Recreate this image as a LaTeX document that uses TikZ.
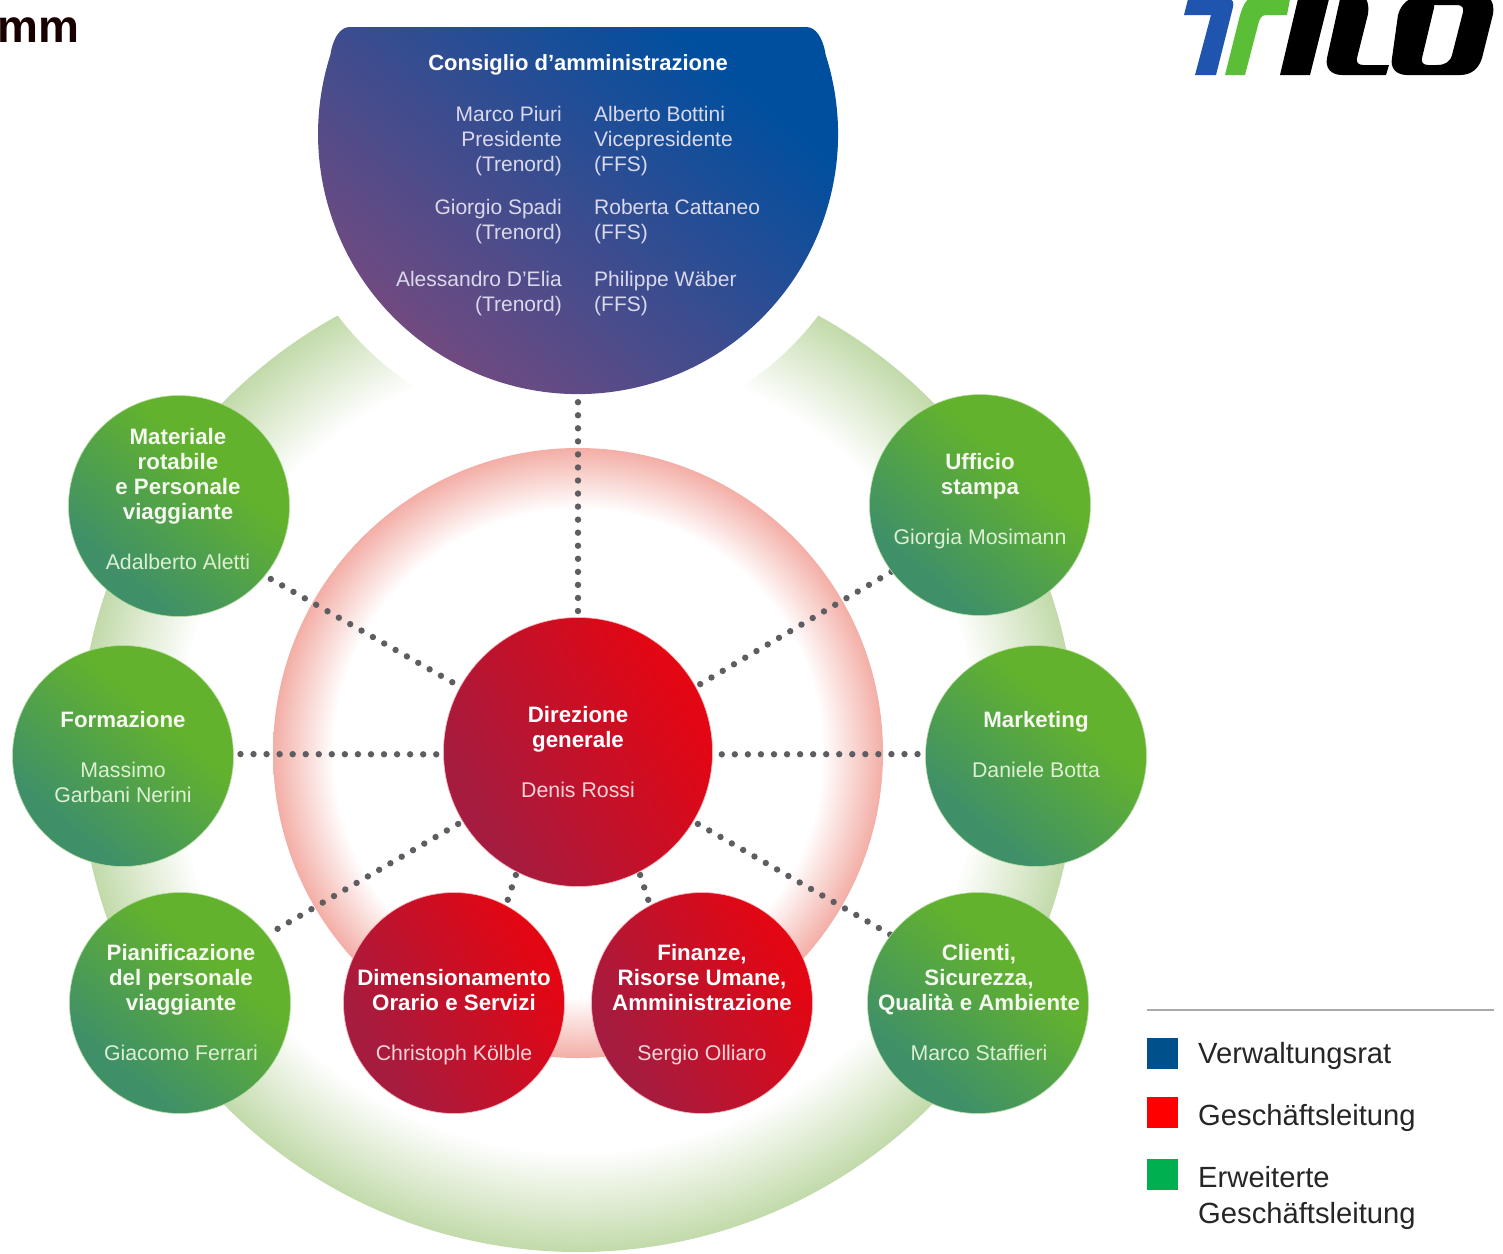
\documentclass[tikz,border=0pt]{standalone}
\usepackage{fontspec}
\setmainfont{Liberation Sans}
\pgfdeclarelayer{rings}
\pgfdeclarelayer{links}
\pgfsetlayers{rings,links,main}
\definecolor{ringG}{HTML}{C2DAAA}
\definecolor{ringR}{HTML}{F3AEA6}
\definecolor{linkC}{HTML}{5E5E62}
\definecolor{legB}{HTML}{00508C}
\definecolor{legR}{HTML}{FF0000}
\definecolor{legG}{HTML}{00B050}
\definecolor{logoB}{HTML}{1F55AE}
\definecolor{logoG}{HTML}{5ABF36}
\definecolor{greenNm}{HTML}{DDF0D2}
\definecolor{redNm}{HTML}{F8D4D8}
\definecolor{blueNm}{HTML}{DAD9EC}
\definecolor{titleC}{HTML}{F4F8EE}
\pgfdeclareradialshading{greenring}{\pgfpoint{0bp}{0bp}}{color(0bp)=(white);color(20bp)=(white);color(25bp)=(ringG);color(50bp)=(ringG)}
\pgfdeclareradialshading{redring}{\pgfpoint{0bp}{0bp}}{color(0bp)=(white);color(20bp)=(white);color(25bp)=(ringR);color(50bp)=(ringR)}
\definecolor{gA}{HTML}{3F9068}\definecolor{gB}{HTML}{62B22E}
\definecolor{rA}{HTML}{A51C40}\definecolor{rB}{HTML}{E30613}
\definecolor{bA}{HTML}{734A80}\definecolor{bB}{HTML}{004F9F}
\pgfdeclarehorizontalshading{gdisc}{100bp}{color(0bp)=(gA);color(30bp)=(gA);color(62bp)=(gB);color(100bp)=(gB)}
\pgfdeclarehorizontalshading{rdisc}{100bp}{color(0bp)=(rA);color(28bp)=(rA);color(72bp)=(rB);color(100bp)=(rB)}
\pgfdeclarehorizontalshading{bdisc}{100bp}{color(0bp)=(bA);color(28bp)=(bA);color(72bp)=(bB);color(100bp)=(bB)}
\newcommand{\nm}{\fontsize{21.3}{25}\selectfont}
\tikzset{
  x=1pt,y=-1pt,
  gdiscnode/.style={circle,inner sep=0pt,minimum size=221pt,shading=gdisc,shading angle=50,draw=gB!45!white,line width=0.6pt},
  rdiscnode/.style={circle,inner sep=0pt,minimum size=221pt,shading=rdisc,shading angle=30,draw=rB!30!white,line width=0.6pt},
  lbl/.style={align=center,inner sep=0pt,font=\fontsize{22.3}{25}\selectfont},
  dots/.style={linkC,line width=6.4pt,line cap=round,dash pattern=on 0pt off 13.05pt},
  brd/.style={inner sep=0pt,text=blueNm,font=\fontsize{21}{25}\selectfont},
  legbox/.style={minimum size=31pt,inner sep=0pt,anchor=north west},
  legtxt/.style={anchor=west,inner sep=0pt,font=\fontsize{29.2}{36}\selectfont,align=left,text=black!85}
}
\begin{document}
\begin{tikzpicture}
\useasboundingbox (0,0) rectangle (1503,1253);
\clip (0,0) rectangle (1503,1253);
% rings
\begin{pgfonlayer}{rings}
\fill[white] (0,0) rectangle (1503,1253);
\shade[shading=greenring] (578,753) circle[radius=499];
\shade[shading=redring] (578,753) circle[radius=305];
\fill[white] (578,134) circle[radius=301];
\end{pgfonlayer}
% heading fragment
\node[anchor=base west,inner sep=0pt,text=black!90!red,font=\fontsize{46}{46}\selectfont\bfseries] (head) at (-3,42) {mm};
% board
\shade[shading=bdisc,shading angle=50] (350,27) -- (806,27) .. controls (816,27) and (823,38) .. (825.7,55)
  arc[start angle=-17.7,end angle=197.7,radius=260] .. controls (333,38) and (340,27) .. (350,27) -- cycle;
\node[circle,minimum size=520pt,inner sep=0pt] (board) at (578,134) {};
\node[inner sep=0pt,text=white,font=\fontsize{22}{25}\selectfont\bfseries] (bt) at (578,65) {Consiglio d’amministrazione};
\node[brd,anchor=east,align=right] (b1) at (562,141) {Marco Piuri\\Presidente\\(Trenord)};
\node[brd,anchor=west,align=left] (b2) at (594,141) {Alberto Bottini\\Vicepresidente\\(FFS)};
\node[brd,anchor=east,align=right] (b3) at (562,222) {Giorgio Spadi\\(Trenord)};
\node[brd,anchor=west,align=left] (b4) at (594,222) {Roberta Cattaneo\\(FFS)};
\node[brd,anchor=east,align=right] (b5) at (562,294) {Alessandro D’Elia\\(Trenord)};
\node[brd,anchor=west,align=left] (b6) at (594,294) {Philippe Wäber\\(FFS)};
% discs
\node[rdiscnode,minimum size=269pt] (dir) at (578,752) {};
\node[gdiscnode] (mat) at (179,506) {};
\node[gdiscnode] (uff) at (980,505) {};
\node[gdiscnode] (frm) at (123,756) {};
\node[gdiscnode] (mkt) at (1036,756) {};
\node[gdiscnode] (pia) at (180,1003) {};
\node[gdiscnode] (cli) at (978,1003) {};
\node[rdiscnode] (dim) at (454,1003) {};
\node[rdiscnode] (fin) at (702,1003) {};
% labels
\node[lbl,text=white] (dirT) at (578,752) {\textbf{Direzione}\\\textbf{generale}\\[25pt]\textcolor{redNm}{\nm Denis Rossi}};
\node[lbl,text=titleC] (matT) at (178,499) {\textbf{Materiale}\\\textbf{rotabile}\\\textbf{e Personale}\\\textbf{viaggiante}\\[25pt]\textcolor{greenNm}{\nm Adalberto Aletti}};
\node[lbl,text=titleC] (uffT) at (980,501.5) {\textbf{Ufficio}\\\textbf{stampa}\\[25pt]\textcolor{greenNm}{\nm Giorgia Mosimann}};
\node[lbl,text=titleC] (frmT) at (123,757) {\textbf{Formazione}\\[25pt]\textcolor{greenNm}{\nm Massimo}\\\textcolor{greenNm}{\nm Garbani Nerini}};
\node[lbl,text=titleC] (mktT) at (1036,744.5) {\textbf{Marketing}\\[25pt]\textcolor{greenNm}{\nm Daniele Botta}};
\node[lbl,text=titleC] (piaT) at (181,1003) {\textbf{Pianificazione}\\\textbf{del personale}\\\textbf{viaggiante}\\[25pt]\textcolor{greenNm}{\nm Giacomo Ferrari}};
\node[lbl,text=titleC] (cliT) at (979,1003) {\textbf{Clienti,}\\\textbf{Sicurezza,}\\\textbf{Qualità e Ambiente}\\[25pt]\textcolor{greenNm}{\nm Marco Staffieri}};
\node[lbl,text=white] (dimT) at (454,1017) {\textbf{Dimensionamento}\\\textbf{Orario e Servizi}\\[25pt]\textcolor{redNm}{\nm Christoph Kölble}};
\node[lbl,text=white] (finT) at (702,1005) {\textbf{Finanze,}\\\textbf{Risorse Umane,}\\\textbf{Amministrazione}\\[25pt]\textcolor{redNm}{\nm Sergio Olliaro}};
% connectors
\begin{pgfonlayer}{links}
\draw[dots,shorten <=8pt] (board.south) -- (dir.north);
\draw[dots,shorten <=9pt] (dir.151.7) -- (mat.-39);
\draw[dots,shorten <=5pt] (dir.29) -- (uff.217);
\draw[dots,shorten <=7pt] (dir.181) -- (frm.1);
\draw[dots,shorten <=9pt] (dir.359) -- (mkt.179);
\draw[dots,shorten <=5pt] (dir.211) -- (pia.38);
\draw[dots,shorten <=5pt] (dir.-31) -- (cli.142);
\draw[dots,shorten <=3pt] (dir.243) -- (dim.62);
\draw[dots,shorten <=3pt] (dir.297) -- (fin.118);
\end{pgfonlayer}
% logo
\fill[logoB] (1184,15) -- (1188,-1) -- (1228,-1) .. controls (1233,-1) and (1234,3) .. (1233,7) -- (1216,75) -- (1195,75) -- (1211,15) -- cycle;
\fill[logoG] (1225,75) -- (1240,15) .. controls (1243,6) and (1246,-1) .. (1250,-1) -- (1290,-1) -- (1287,15) -- (1267,15) .. controls (1261,15) and (1260,18) .. (1258,25) -- (1245,75) -- cycle;
\fill[black] (1280,75) -- (1298,-1) -- (1329,-1) -- (1310,75) -- cycle;
\fill[black] (1340,-1) -- (1327,58) .. controls (1325,68) and (1331,75) .. (1342,75) -- (1386,75) -- (1389,65) -- (1363,65) .. controls (1358,65) and (1356,62) .. (1357,58) -- (1368,14) .. controls (1369,8) and (1368,2) .. (1366,-1) -- cycle;
\fill[black,even odd rule] (1410,-1) .. controls (1403,3) and (1400,8) .. (1398,15) -- (1392,58) .. controls (1390,68) and (1396,75) .. (1407,75) -- (1460,75) .. controls (1472,75) and (1479,68) .. (1482,58) -- (1493,14) .. controls (1494,8) and (1493,2) .. (1490,-1) -- cycle
  (1433,5) -- (1457,5) .. controls (1462,5) and (1464,8) .. (1463,12) -- (1452,55) .. controls (1450,62) and (1445,65) .. (1437,65) -- (1428,65) .. controls (1423,65) and (1421,62) .. (1422,58) -- (1433,12) .. controls (1434,8) and (1435,5) .. (1433,5) -- cycle;
% legend
\coordinate (ruleA) at (1147,1010);
\coordinate (ruleB) at (1494,1010);
\draw[black!33,line width=1.4pt] (ruleA) -- (ruleB);
\node[legbox,fill=legB] (lb1) at (1147,1038) {};
\node[legbox,fill=legR] (lb2) at (1147,1097) {};
\node[legbox,fill=legG] (lb3) at (1147,1159) {};
\node[legtxt] (lt1) at (1198,1056) {Verwaltungsrat};
\node[legtxt] (lt2) at (1198,1118) {Geschäftsleitung};
\node[legtxt] (lt3) at (1198,1198) {Erweiterte\\Geschäftsleitung};
\end{tikzpicture}
\end{document}
